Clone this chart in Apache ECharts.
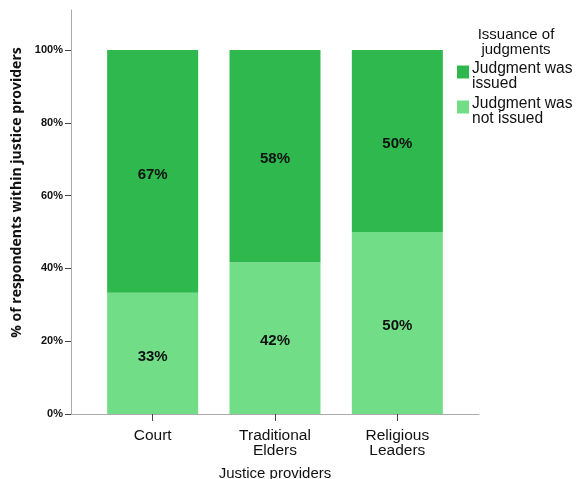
<!DOCTYPE html>
<html>
<head>
<meta charset="utf-8">
<script src="https://cdn.jsdelivr.net/npm/echarts@6/dist/echarts.min.js"></script>
<style>
  html, body { margin: 0; padding: 0; background: #fff; }
  #chart { width: 579px; height: 479px; }
</style>
</head>
<body>
<div id="chart"></div>
<script>
var providers = ['Court', 'Traditional\nElders', 'Religious\nLeaders'];
var notIssued = [33.3, 41.7, 50.0];
var issued = [66.7, 58.3, 50.0];
var yTicks = [0, 20, 40, 60, 80, 100];

var colorIssued = '#2eb84d';
var colorNotIssued = '#72dd87';
var font = 'Arial, "Liberation Sans", sans-serif';

var labelStyle = {
    show: true,
    position: 'inside',
    offset: [0, 3],
    color: '#111',
    fontFamily: font,
    fontWeight: 'bold',
    fontSize: 15,
    formatter: function (p) { return Math.round(p.value) + '%'; }
};

// square swatch sitting at the top of a two-line legend item
var swatch = 'path://M0,4L12,4L12,17L0,17Z M0,0L0,0 M0,30L0,30';

var chart = echarts.init(document.getElementById('chart'));
chart.setOption({
    animation: false,
    title: {
        text: 'Issuance of\njudgments',
        left: 511,
        top: 22,
        textAlign: 'center',
        textStyle: { fontFamily: font, fontSize: 15, fontWeight: 'normal', color: '#111', lineHeight: 15 }
    },
    legend: {
        orient: 'vertical',
        left: 452,
        top: 56,
        itemWidth: 12,
        itemHeight: 30,
        itemGap: 4,
        icon: swatch,
        data: ['Judgment was\nissued', 'Judgment was\nnot issued'],
        textStyle: { fontFamily: font, fontSize: 15.6, color: '#111', lineHeight: 15, padding: [0, 0, 0, -2] }
    },
    grid: [
        // bars: three category bands 122px wide
        { left: 91.5, right: 120.5, top: 10, bottom: 65, outerBoundsMode: 'none' },
        // axis frame
        { left: 71, right: 100, top: 10, bottom: 65, outerBoundsMode: 'none' }
    ],
    xAxis: [
        {
            gridIndex: 0,
            type: 'category',
            data: providers,
            axisLine: { show: false },
            axisTick: { show: true, alignWithLabel: true, length: 7, lineStyle: { color: '#444' } },
            axisLabel: { margin: 14, fontFamily: font, fontSize: 15.5, color: '#111', lineHeight: 15 }
        },
        {
            gridIndex: 1,
            type: 'value',
            min: 0,
            max: 1,
            name: 'Justice providers',
            nameLocation: 'middle',
            nameGap: 52,
            nameTextStyle: { fontFamily: font, fontSize: 15, color: '#111' },
            axisLine: { show: true, lineStyle: { color: '#aaa' } },
            axisTick: { show: false },
            axisLabel: { show: false },
            splitLine: { show: false }
        }
    ],
    yAxis: [
        {
            gridIndex: 0,
            type: 'value',
            min: 0,
            max: 111,
            show: false
        },
        {
            gridIndex: 1,
            type: 'value',
            min: 0,
            max: 111,
            name: '% of respondents within justice providers',
            nameLocation: 'middle',
            nameGap: 44,
            nameTextStyle: {
                fontFamily: '"Open Sans", Arial, sans-serif',
                fontSize: 14, fontWeight: 'bold', color: '#111',
                padding: [0, 0, 0, 39]
            },
            axisLine: { show: true, lineStyle: { color: '#aaa' } },
            axisTick: { show: true, customValues: yTicks, length: 6, lineStyle: { color: '#444' } },
            axisLabel: {
                customValues: yTicks,
                margin: 8,
                fontFamily: font,
                fontWeight: 'bold', fontSize: 11, color: '#111',
                formatter: '{value}%'
            },
            splitLine: { show: false }
        }
    ],
    series: [
        {
            name: 'Judgment was\nnot issued',
            type: 'bar',
            xAxisIndex: 0,
            yAxisIndex: 0,
            stack: 'total',
            barWidth: 91,
            itemStyle: { color: colorNotIssued },
            label: labelStyle,
            data: notIssued
        },
        {
            name: 'Judgment was\nissued',
            type: 'bar',
            xAxisIndex: 0,
            yAxisIndex: 0,
            stack: 'total',
            barWidth: 91,
            itemStyle: { color: colorIssued },
            label: labelStyle,
            data: issued
        }
    ]
});
</script>
</body>
</html>
